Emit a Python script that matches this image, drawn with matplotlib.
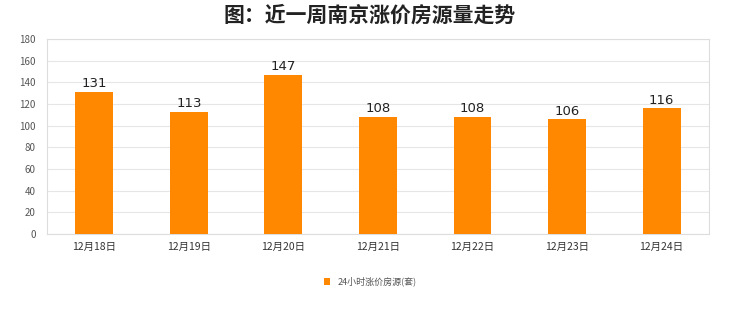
import numpy as np
import matplotlib
matplotlib.use('Agg')
import matplotlib.pyplot as plt

plt.rcParams['font.family'] = ['Noto Sans CJK SC', 'DejaVu Sans']

dates = ['12月18日', '12月19日', '12月20日', '12月21日', '12月22日', '12月23日', '12月24日']
counts = [131, 113, 147, 108, 108, 106, 116]
series_name = '24小时涨价房源(套)'
title = '图：近一周南京涨价房源量走势'

bar_color = '#FF8800'
grid_color = '#E6E6E6'

fig = plt.figure(figsize=(7.4, 3.12), dpi=100)
ax = fig.add_axes([0.0635, 0.25, 0.8945, 0.625])

x = np.arange(len(dates))
bars = ax.bar(x, counts, width=0.4, color=bar_color, label=series_name, zorder=3)
for xi, v in zip(x, counts):
    ax.text(xi, v + 1.5, str(v), ha='center', va='bottom', fontsize=9.5,
            family='DejaVu Sans', color='#222222', zorder=4)

ax.set_xlim(-0.5, len(dates) - 0.5)
ax.set_ylim(0, 180)
ax.set_yticks(np.arange(0, 181, 20))
ax.set_xticks(x)
ax.set_xticklabels(dates, fontsize=7.5, color='#333333')
ax.tick_params(axis='y', labelsize=7, colors='#555555', length=0, pad=8)
ax.tick_params(axis='x', length=0, pad=6)
ax.grid(axis='y', color=grid_color, linewidth=0.8, zorder=0)
for s in ax.spines.values():
    s.set_color('#DDDDDD')
    s.set_linewidth(0.8)

fig.text(0.5, 0.952, title, ha='center', va='center', fontsize=15, fontweight='bold', color='#222222')

leg = fig.legend(handles=[bars], labels=[series_name], loc='center', bbox_to_anchor=(0.5, 0.097),
                 frameon=False, fontsize=6.5, handlelength=0.7, handleheight=0.7, handletextpad=0.8)
for t in leg.get_texts():
    t.set_color('#555555')

fig.savefig('out.png', dpi=100)
